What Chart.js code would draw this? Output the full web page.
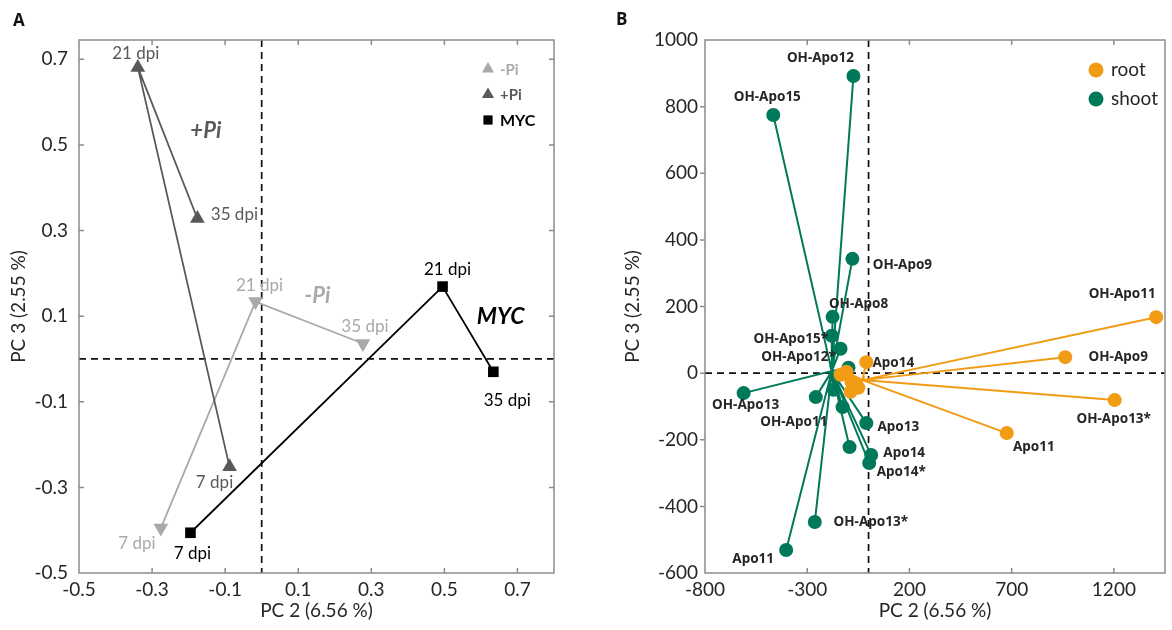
<!DOCTYPE html>
<html><head><meta charset="utf-8">
<script src="https://cdn.jsdelivr.net/npm/chart.js@4.4.1/dist/chart.umd.min.js"></script>
<style>
html,body{margin:0;padding:0;background:#fff;}
body{width:1172px;height:630px;overflow:hidden;position:relative;}
#wa{position:absolute;left:0;top:0;width:585px;height:630px;}
#wb{position:absolute;left:585px;top:0;width:587px;height:630px;}
.pl{position:absolute;font:bold 17px 'Open Sans';color:#111;z-index:2;}
</style></head><body>
<div class="pl" style="left:13px;top:8px">A</div>
<div class="pl" style="left:616px;top:7px">B</div>
<div id="wa"><canvas id="ca" width="585" height="630"></canvas></div>
<div id="wb"><canvas id="cb" width="587" height="630"></canvas></div>
<script>
// ---------- Panel A data ----------
const timeLabels = ['7 dpi', '21 dpi', '35 dpi'];
const minusPiX = [-0.276, -0.017, 0.277];
const minusPiY = [-0.395, 0.134, 0.036];
const plusPiX = [-0.088, -0.339, -0.176];
const plusPiY = [-0.252, 0.681, 0.328];
const mycX = [-0.195, 0.495, 0.634];
const mycY = [-0.406, 0.169, -0.030];
const xTicksA = [-0.5, -0.3, -0.1, 0.1, 0.3, 0.5, 0.7];
const yTicksA = [-0.5, -0.3, -0.1, 0.1, 0.3, 0.5, 0.7];
const groupNamesA = ['-Pi', '+Pi', 'MYC'];

// ---------- Panel B data ----------
const shootNames = ['OH-Apo12','OH-Apo15','OH-Apo9','OH-Apo8','OH-Apo15*','OH-Apo12*','','OH-Apo13','OH-Apo11','','','Apo13','','Apo14','Apo14*','Apo11','OH-Apo13*'];
const shootX = [-74, -466, -79, -176, -180, -137, -98, -611, -258, -171, -127, -11, -93, 13, 3, -403, -263];
const shootY = [892, 775, 343, 169, 112, 73, 16, -60, -72, -50, -102, -150, -222, -246, -270, -531, -447];
const shootCenter = [-180, 6];
const rootNames = ['OH-Apo11','OH-Apo9','OH-Apo13*','Apo11','Apo14','','','','',''];
const rootX = [1407, 962, 1204, 676, -11, -137, -108, -84, -50, -88];
const rootY = [168, 48, -81, -180, 33, -5, 4, -26, -44, -56];
const rootCenter = [-30, -21];
const xTicksB = [-800, -300, 200, 700, 1200];
const yTicksB = [-600, -400, -200, 0, 200, 400, 600, 800, 1000];
const seriesNamesB = ['root', 'shoot'];

// ---------- label placement (pixels, relative to mark) ----------
const minusPiLabelOff = [[-24, 15], [4, -16], [2, -17]];
const plusPiLabelOff = [[-15, 16], [-2, -14], [37, -4]];
const mycLabelOff = [[2, 21], [5, -17], [14, 29]];
const shootLabelOff = [[-33,-18],[-6,-18],[50,6],[26,-13],[-41,3],[-42,8],null,[2,12],[-22,25],null,null,[32,4],null,[33,-2],[32,9],[-33,9],[56,0]];
const rootLabelOff = [[-34,-23],[53,0],[-1,19],[27,14],[27,1],null,null,null,null,null];

const C_LIGHT = '#a9a9a9', C_DARK = '#595959', C_BLACK = '#000000';
const C_GREEN = '#00795b', C_ORANGE = '#f29b14';
const TXT = '#262626';

const pts = (xs, ys) => xs.map((x, i) => ({x, y: ys[i]}));
const spokes = (xs, ys, c) => xs.flatMap((x, i) => [{x: c[0], y: c[1]}, {x, y: ys[i]}]);

function framePlugin(leftOut, skipRight) {
  return {
    id: 'frame',
    beforeDatasetsDraw(chart) {
      const {ctx, chartArea: a, scales: {x, y}} = chart;
      const L = 5;
      ctx.save();
      ctx.strokeStyle = '#111'; ctx.lineWidth = 1.7; ctx.setLineDash([7, 5]);
      const px = x.getPixelForValue(0), py = y.getPixelForValue(0);
      ctx.beginPath();
      ctx.moveTo(px, a.top); ctx.lineTo(px, a.bottom);
      ctx.moveTo(a.left, py); ctx.lineTo(a.right, py);
      ctx.stroke();
      ctx.setLineDash([]);
      ctx.strokeStyle = '#8c8c8c'; ctx.lineWidth = 1.5;
      ctx.strokeRect(a.left, a.top, a.right - a.left, a.bottom - a.top);
      ctx.beginPath();
      x.ticks.forEach(t => {
        const p = x.getPixelForValue(t.value);
        if (p <= a.left + 1 || p >= a.right - 1) return;
        ctx.moveTo(p, a.bottom); ctx.lineTo(p, a.bottom - L);
        ctx.moveTo(p, a.top); ctx.lineTo(p, a.top + L);
      });
      y.ticks.forEach(t => {
        const p = y.getPixelForValue(t.value);
        if (p <= a.top + 1 || p >= a.bottom - 1) return;
        if (leftOut) { ctx.moveTo(a.left, p); ctx.lineTo(a.left - L, p); }
        else { ctx.moveTo(a.left, p); ctx.lineTo(a.left + L, p); }
        if (!skipRight) { ctx.moveTo(a.right, p); ctx.lineTo(a.right - L, p); }
      });
      ctx.stroke();
      ctx.restore();
    }
  };
}

function labelPlugin(specs, extra) {
  return {
    id: 'labels',
    afterDatasetsDraw(chart) {
      const {ctx} = chart;
      ctx.save();
      ctx.textAlign = 'center'; ctx.textBaseline = 'middle';
      specs.forEach(s => {
        const meta = chart.getDatasetMeta(s.ds);
        ctx.font = s.font; ctx.fillStyle = s.color;
        s.names.forEach((n, i) => {
          if (!n || !s.off[i]) return;
          const el = meta.data[i];
          ctx.fillText(n, el.x + s.off[i][0], el.y + s.off[i][1]);
        });
      });
      if (extra) extra(chart, ctx);
      ctx.restore();
    }
  };
}

const tickFont = {family: 'Lato', size: 19};
const titleFont = {family: 'Lato', size: 19};

function scaleOpts(min, max, tickVals, fmt, horiz, title, tpad, lpad, fitSize) {
  return {
    type: 'linear', min, max,
    grid: {display: false, drawTicks: false},
    border: {display: false},
    afterBuildTicks: s => { s.ticks = tickVals.map(v => ({value: v})); },
    afterFit: s => { if (horiz) s.height = fitSize; else s.width = fitSize; },
    ticks: {font: tickFont, color: TXT, padding: lpad, callback: v => fmt(v), maxRotation: 0, autoSkip: false},
    title: {display: true, text: title, font: titleFont, color: TXT, padding: tpad}
  };
}

// ---------- Chart A ----------
const labelFontA = '17px Lato';
new Chart(document.getElementById('ca'), {
  type: 'scatter',
  data: {
    datasets: [
      {label: groupNamesA[2], data: pts(mycX, mycY), showLine: true, borderColor: C_BLACK, backgroundColor: C_BLACK,
       borderWidth: 1.8, pointStyle: 'rect', pointRadius: 7.5, pointBorderWidth: 0},
      {label: groupNamesA[1], data: pts(plusPiX, plusPiY), showLine: true, borderColor: C_DARK, backgroundColor: C_DARK,
       borderWidth: 1.8, pointStyle: 'triangle', pointRadius: 8.5, pointBorderWidth: 0},
      {label: groupNamesA[0], data: pts(minusPiX, minusPiY), showLine: true, borderColor: C_LIGHT, backgroundColor: C_LIGHT,
       borderWidth: 1.8, pointStyle: 'triangle', rotation: 180, pointRadius: 8.5, pointBorderWidth: 0}
    ]
  },
  options: {
    responsive: false, animation: false, devicePixelRatio: 1,
    layout: {padding: {left: 0, top: 40, right: 31, bottom: 0}},
    plugins: {legend: {display: false}, tooltip: {enabled: false}},
    elements: {line: {tension: 0}},
    scales: {
      x: scaleOpts(-0.5, 0.8, xTicksA, v => String(v), true, 'PC 2 (6.56 %)', {top: 0, bottom: 8}, 5, 57),
      y: scaleOpts(-0.5, 0.745, yTicksA, v => String(v), false, 'PC 3 (2.55 %)', {top: 7, bottom: 0}, 11, 79)
    }
  },
  plugins: [framePlugin(false, false), labelPlugin([
    {ds: 0, names: timeLabels, off: mycLabelOff, font: labelFontA, color: C_BLACK},
    {ds: 1, names: timeLabels, off: plusPiLabelOff, font: labelFontA, color: C_DARK},
    {ds: 2, names: timeLabels, off: minusPiLabelOff, font: labelFontA, color: C_LIGHT}
  ], (chart, ctx) => {
    const m1 = chart.getDatasetMeta(1).data[1], m2 = chart.getDatasetMeta(2).data[1], m0 = chart.getDatasetMeta(0).data[1];
    ctx.font = 'italic bold 22px Lato';
    ctx.fillStyle = C_DARK; ctx.fillText(groupNamesA[1], m1.x + 68, m1.y + 64);
    ctx.fillStyle = C_LIGHT; ctx.fillText(groupNamesA[0], m2.x + 62, m2.y - 6);
    ctx.fillStyle = C_BLACK; ctx.font = 'italic bold 23px Lato'; ctx.fillText(groupNamesA[2], m0.x + 58, m0.y + 30);
    const a = chart.chartArea;
    const lx = a.right - 66, ly = a.top + 29, gap = 25.5;
    const items = [
      {t: groupNamesA[0], c: C_LIGHT, s: 'triangle', f: 'bold 15px Lato'},
      {t: groupNamesA[1], c: C_DARK, s: 'triangle', f: 'bold 15px Lato'},
      {t: groupNamesA[2], c: C_BLACK, s: 'rect', f: 'bold 16px Lato'}
    ];
    items.forEach((it, i) => {
      const y = ly + i * gap;
      ctx.fillStyle = it.c;
      Chart.helpers.drawPoint(ctx, {pointStyle: it.s, radius: it.s === 'rect' ? 6.5 : 7, borderWidth: 0, rotation: 0}, lx, y);
      ctx.fillStyle = it.c; ctx.font = it.f; ctx.textAlign = 'left';
      ctx.fillText(it.t, lx + 12, y + 1);
    });
  })]
});

// ---------- Chart B ----------
const labelFontB = 'bold 13.5px "Noto Sans"';
new Chart(document.getElementById('cb'), {
  type: 'scatter',
  data: {
    datasets: [
      {label: seriesNamesB[0], data: pts(rootX, rootY), backgroundColor: C_ORANGE, borderColor: C_ORANGE,
       pointRadius: 7, pointBorderWidth: 0},
      {label: seriesNamesB[0] + ' spokes', data: spokes(rootX, rootY, rootCenter), showLine: true,
       borderColor: C_ORANGE, borderWidth: 2, pointRadius: 0},
      {label: seriesNamesB[1], data: pts(shootX, shootY), backgroundColor: C_GREEN, borderColor: C_GREEN,
       pointRadius: 7, pointBorderWidth: 0},
      {label: seriesNamesB[1] + ' spokes', data: spokes(shootX, shootY, shootCenter), showLine: true,
       borderColor: C_GREEN, borderWidth: 2, pointRadius: 0}
    ]
  },
  options: {
    responsive: false, animation: false, devicePixelRatio: 1,
    layout: {padding: {left: 0, top: 40, right: 2, bottom: 0}},
    plugins: {legend: {display: false}, tooltip: {enabled: false}},
    scales: {
      x: scaleOpts(-800, 1450, xTicksB, v => String(v), true, 'PC 2 (6.56 %)', {top: 0, bottom: 8}, 5, 57),
      y: scaleOpts(-600, 1000, yTicksB, v => String(v), false, 'PC 3 (2.55 %)', {top: 36, bottom: 0}, 7, 120)
    }
  },
  plugins: [framePlugin(true, true), labelPlugin([
    {ds: 2, names: shootNames, off: shootLabelOff, font: labelFontB, color: TXT},
    {ds: 0, names: rootNames, off: rootLabelOff, font: labelFontB, color: TXT}
  ], (chart, ctx) => {
    const a = chart.chartArea;
    const lx = a.right - 69, ly = a.top + 30, gap = 29;
    [{t: seriesNamesB[0], c: C_ORANGE}, {t: seriesNamesB[1], c: C_GREEN}].forEach((it, i) => {
      const y = ly + i * gap;
      ctx.fillStyle = it.c;
      ctx.beginPath(); ctx.arc(lx, y, 7.5, 0, Math.PI * 2); ctx.fill();
      ctx.fillStyle = TXT; ctx.font = '19px Lato'; ctx.textAlign = 'left';
      ctx.fillText(it.t, lx + 15, y);
    });
  })]
});
</script>
</body></html>
